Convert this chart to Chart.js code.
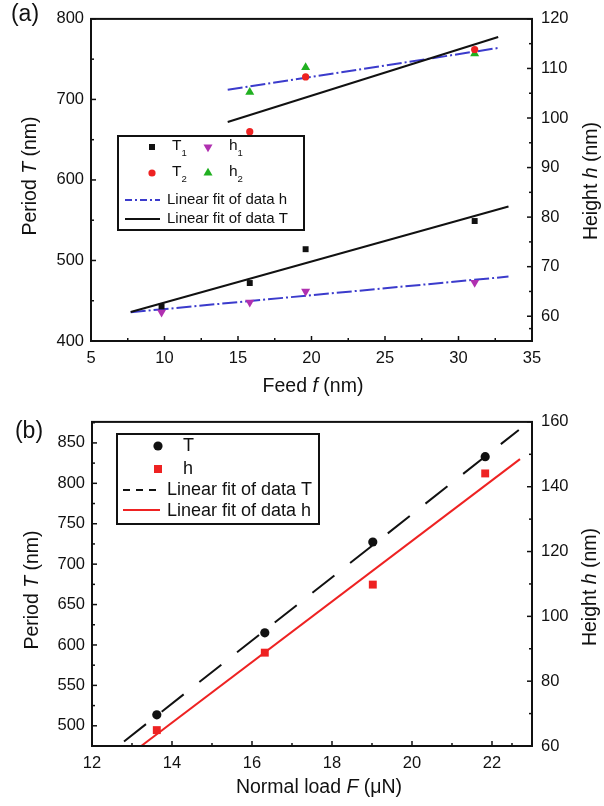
<!DOCTYPE html>
<html lang="en">
<head>
<meta charset="UTF-8">
<title>Period and height vs feed / normal load</title>
<style>
  body { margin: 0; background: #fff; }
  .panel { position: absolute; left: 0; width: 604px; height: 403px; }
  #panelA { top: 0; }
  #panelB { top: 403px; }
</style>
</head>
<body>
<div class="panel" id="panelA"><canvas id="chartA" width="604" height="403"></canvas></div>
<div class="panel" id="panelB"><canvas id="chartB" width="604" height="403"></canvas></div>

<script src="https://cdn.jsdelivr.net/npm/chart.js"></script>
<script>
// ---- panel (a): feed ----
const feedT1 = [9.8, 15.8, 19.6, 31.1];
const periodT1 = [443, 472, 514, 549];
const heightH1 = [60.8, 62.8, 65.0, 66.8];
const feedT2 = [15.8, 19.6, 31.1];
const periodT2 = [660, 728, 762];
const heightH2 = [105.2, 110.2, 113.0];
const fitFeedLow = [7.7, 33.4];
const fitPeriodLow = [436, 567];
const fitHeightLow = [60.8, 68.0];
const fitFeedHighT = [14.3, 32.7];
const fitPeriodHigh = [672, 777.5];
const fitFeedHighH = [14.3, 32.85];
const fitHeightHigh = [105.7, 114.2];
const feedTicks = [5, 10, 15, 20, 25, 30, 35];
const periodTicksA = [400, 500, 600, 700, 800];
const heightTicksA = [60, 70, 80, 90, 100, 110, 120];

// ---- panel (b): normal load ----
const loadF = [13.62, 16.32, 19.02, 21.83];
const periodB = [513.6, 615, 727.4, 833];
const heightB = [64.9, 88.8, 109.8, 144.1];
const fitLoadT = [12.8, 22.67];
const fitPeriodB = [480.6, 866];
const fitLoadH = [13.23, 22.7];
const fitHeightB = [60, 148.5];
const loadTicks = [12, 14, 16, 18, 20, 22];
const periodTicksB = [500, 550, 600, 650, 700, 750, 800, 850];
const heightTicksB = [60, 80, 100, 120, 140, 160];

const FAMILY = "'Liberation Sans', Arial, Helvetica, sans-serif";
const INK = '#111';
const BLUE = '#3b3bcc';
const RED = '#ee2222';
const MAGENTA = '#b030b0';
const GREEN = '#20b020';

Chart.defaults.font.family = FAMILY;

const pts = (xs, ys) => xs.map((x, i) => ({ x: x, y: ys[i] }));
const midpoints = arr => arr.slice(1).map((v, i) => (v + arr[i]) / 2);

// text with italic / subscript pieces
function richText(ctx, parts, size, x, y, rot, align) {
    ctx.save();
    ctx.translate(x, y);
    ctx.rotate(rot || 0);
    ctx.textBaseline = 'middle';
    ctx.textAlign = 'left';
    ctx.fillStyle = INK;
    const fontOf = p => (p.it ? 'italic ' : '') + (p.sub ? size * 0.62 : size) + 'px ' + FAMILY;
    let w = 0;
    parts.forEach(p => { ctx.font = fontOf(p); w += ctx.measureText(p.t).width; });
    let cx = align === 'left' ? 0 : -w / 2;
    parts.forEach(p => {
        ctx.font = fontOf(p);
        ctx.fillText(p.t, cx, p.sub ? size * 0.45 : 0);
        cx += ctx.measureText(p.t).width;
    });
    ctx.restore();
}

function marker(ctx, style, color, x, y, r) {
    ctx.save();
    ctx.fillStyle = color;
    ctx.beginPath();
    if (style === 'rect') {
        ctx.rect(x - r, y - r, 2 * r, 2 * r);
    } else if (style === 'circle') {
        ctx.arc(x, y, r, 0, Math.PI * 2);
    } else if (style === 'up') {
        ctx.moveTo(x, y - r); ctx.lineTo(x + r * 0.87, y + r * 0.5); ctx.lineTo(x - r * 0.87, y + r * 0.5);
    } else if (style === 'down') {
        ctx.moveTo(x, y + r); ctx.lineTo(x + r * 0.87, y - r * 0.5); ctx.lineTo(x - r * 0.87, y - r * 0.5);
    }
    ctx.closePath();
    ctx.fill();
    ctx.restore();
}

function legendLine(ctx, x1, x2, y, color, dash) {
    ctx.save();
    ctx.strokeStyle = color;
    ctx.lineWidth = 2;
    ctx.setLineDash(dash || []);
    ctx.beginPath(); ctx.moveTo(x1, y); ctx.lineTo(x2, y); ctx.stroke();
    ctx.restore();
}

// frame, inward ticks, titles and legend
function decor(tickSets, drawExtras) {
    return {
        id: 'decor',
        afterDraw(chart) {
            const { ctx, chartArea: a, scales } = chart;
            ctx.save();
            ctx.strokeStyle = INK;
            ctx.lineWidth = 2;
            ctx.strokeRect(a.left, a.top, a.right - a.left, a.bottom - a.top);
            ctx.lineWidth = 1.5;
            const mark = (id, values, len) => {
                const s = scales[id];
                values.forEach(v => {
                    if (v < s.min || v > s.max) return;
                    const p = s.getPixelForValue(v);
                    ctx.beginPath();
                    if (id === 'x') { ctx.moveTo(p, a.bottom); ctx.lineTo(p, a.bottom - len); }
                    else if (id === 'yT') { ctx.moveTo(a.left, p); ctx.lineTo(a.left + len, p); }
                    else { ctx.moveTo(a.right, p); ctx.lineTo(a.right - len, p); }
                    ctx.stroke();
                });
            };
            Object.keys(tickSets).forEach(id => {
                mark(id, tickSets[id], 5);
                mark(id, midpoints(tickSets[id]), 3);
            });
            ctx.restore();
            drawExtras(ctx);
        }
    };
}

function scalesFor(o) {
    const tickFont = { size: 16.5, family: FAMILY };
    const common = {
        type: 'linear',
        grid: { display: false, drawTicks: false },
        border: { display: false },
        ticks: { font: tickFont, color: INK }
    };
    return {
        x: Object.assign({}, common, {
            min: o.x[0], max: o.x[1],
            ticks: Object.assign({}, common.ticks, { padding: 8 }),
            afterBuildTicks: s => { s.ticks = o.xTicks.map(v => ({ value: v })); },
            afterFit: s => { s.height = o.xHeight; }
        }),
        yT: Object.assign({}, common, {
            position: 'left', min: o.yT[0], max: o.yT[1],
            ticks: Object.assign({}, common.ticks, { padding: 7 }),
            afterBuildTicks: s => { s.ticks = o.yTTicks.map(v => ({ value: v })); },
            afterFit: s => { s.width = o.left; }
        }),
        yH: Object.assign({}, common, {
            position: 'right', min: o.yH[0], max: o.yH[1],
            ticks: Object.assign({}, common.ticks, { padding: 9 }),
            afterBuildTicks: s => { s.ticks = o.yHTicks.map(v => ({ value: v })); },
            afterFit: s => { s.width = o.right; }
        })
    };
}

const baseOptions = (scales, top) => ({
    responsive: false,
    animation: false,
    events: [],
    layout: { padding: { top: top, left: 0, right: 0, bottom: 0 } },
    plugins: { legend: { display: false }, tooltip: { enabled: false } },
    scales: scales
});

// ---------- chart (a) ----------
new Chart(document.getElementById('chartA'), {
    type: 'scatter',
    data: {
        datasets: [
            { data: pts(feedT1, periodT1), yAxisID: 'yT', pointStyle: 'rect', pointRadius: 4.2, backgroundColor: INK, borderWidth: 0 },
            { data: pts(feedT2, periodT2), yAxisID: 'yT', pointStyle: 'circle', pointRadius: 3.6, backgroundColor: RED, borderWidth: 0 },
            { data: pts(feedT1, heightH1), yAxisID: 'yH', pointStyle: 'triangle', rotation: 180, pointRadius: 5.2, backgroundColor: MAGENTA, borderWidth: 0 },
            { data: pts(feedT2, heightH2), yAxisID: 'yH', pointStyle: 'triangle', pointRadius: 5.2, backgroundColor: GREEN, borderWidth: 0 },
            { data: pts(fitFeedLow, fitPeriodLow), yAxisID: 'yT', showLine: true, pointRadius: 0, borderColor: INK, borderWidth: 2 },
            { data: pts(fitFeedHighT, fitPeriodHigh), yAxisID: 'yT', showLine: true, pointRadius: 0, borderColor: INK, borderWidth: 2 },
            { data: pts(fitFeedLow, fitHeightLow), yAxisID: 'yH', showLine: true, pointRadius: 0, borderColor: BLUE, borderWidth: 2, borderDash: [15, 3, 2, 3] },
            { data: pts(fitFeedHighH, fitHeightHigh), yAxisID: 'yH', showLine: true, pointRadius: 0, borderColor: BLUE, borderWidth: 2, borderDash: [15, 3, 2, 3] }
        ]
    },
    options: baseOptions(scalesFor({
        x: [5, 35], yT: [400, 800], yH: [55, 120],
        xTicks: feedTicks, yTTicks: periodTicksA, yHTicks: heightTicksA,
        xHeight: 62, left: 91, right: 72
    }), 15),
    plugins: [decor({ x: feedTicks, yT: periodTicksA, yH: [55].concat(heightTicksA) }, ctx => {
        richText(ctx, [{ t: '(a)' }], 23, 25, 15);
        richText(ctx, [{ t: 'Period ' }, { t: 'T', it: true }, { t: ' (nm)' }], 19.5, 31, 176, -Math.PI / 2);
        richText(ctx, [{ t: 'Height ' }, { t: 'h', it: true }, { t: ' (nm)' }], 19.5, 592, 181, -Math.PI / 2);
        richText(ctx, [{ t: 'Feed ' }, { t: 'f', it: true }, { t: ' (nm)' }], 19.5, 313, 387);
        // legend box
        ctx.save();
        ctx.strokeStyle = INK; ctx.lineWidth = 2;
        ctx.strokeRect(118, 136, 186, 94);
        ctx.restore();
        marker(ctx, 'rect', INK, 152, 147, 3);
        richText(ctx, [{ t: 'T' }, { t: '1', sub: true }], 15.5, 172, 146, 0, 'left');
        marker(ctx, 'down', MAGENTA, 208, 147, 5.2);
        richText(ctx, [{ t: 'h' }, { t: '1', sub: true }], 15.5, 229, 146, 0, 'left');
        marker(ctx, 'circle', RED, 152, 173, 3.6);
        richText(ctx, [{ t: 'T' }, { t: '2', sub: true }], 15.5, 172, 172, 0, 'left');
        marker(ctx, 'up', GREEN, 208, 173, 5.2);
        richText(ctx, [{ t: 'h' }, { t: '2', sub: true }], 15.5, 229, 172, 0, 'left');
        legendLine(ctx, 125, 160, 200, BLUE, [7, 3, 2, 3]);
        richText(ctx, [{ t: 'Linear fit of data h' }], 15, 167, 200, 0, 'left');
        legendLine(ctx, 125, 160, 219, INK);
        richText(ctx, [{ t: 'Linear fit of data T' }], 15, 167, 219, 0, 'left');
    })]
});

// ---------- chart (b) ----------
new Chart(document.getElementById('chartB'), {
    type: 'scatter',
    data: {
        datasets: [
            { data: pts(loadF, periodB), yAxisID: 'yT', pointStyle: 'circle', pointRadius: 4.6, backgroundColor: INK, borderWidth: 0 },
            { data: pts(loadF, heightB), yAxisID: 'yH', pointStyle: 'rect', pointRadius: 5.6, backgroundColor: RED, borderWidth: 0 },
            { data: pts(fitLoadT, fitPeriodB), yAxisID: 'yT', showLine: true, pointRadius: 0, borderColor: INK, borderWidth: 2, borderDash: [28, 20] },
            { data: pts(fitLoadH, fitHeightB), yAxisID: 'yH', showLine: true, pointRadius: 0, borderColor: RED, borderWidth: 2 }
        ]
    },
    options: baseOptions(scalesFor({
        x: [12, 23], yT: [475, 876], yH: [60, 160],
        xTicks: loadTicks, yTTicks: periodTicksB, yHTicks: heightTicksB,
        xHeight: 60, left: 92, right: 72
    }), 18),
    plugins: [decor({ x: loadTicks.concat([23]), yT: periodTicksB.concat([900]), yH: heightTicksB }, ctx => {
        richText(ctx, [{ t: '(b)' }], 23, 29, 29);
        richText(ctx, [{ t: 'Period ' }, { t: 'T', it: true }, { t: ' (nm)' }], 19.5, 33, 187, -Math.PI / 2);
        richText(ctx, [{ t: 'Height ' }, { t: 'h', it: true }, { t: ' (nm)' }], 19.5, 591, 184, -Math.PI / 2);
        richText(ctx, [{ t: 'Normal load ' }, { t: 'F', it: true }, { t: ' (\u03bcN)' }], 19.5, 319, 385);
        ctx.save();
        ctx.strokeStyle = INK; ctx.lineWidth = 2;
        ctx.strokeRect(117, 31, 202, 90);
        ctx.restore();
        marker(ctx, 'circle', INK, 158, 43, 4.6);
        richText(ctx, [{ t: 'T' }], 18, 183, 43, 0, 'left');
        marker(ctx, 'rect', RED, 158, 66, 4);
        richText(ctx, [{ t: 'h' }], 18, 183, 66, 0, 'left');
        legendLine(ctx, 123, 160, 87, INK, [7, 6]);
        richText(ctx, [{ t: 'Linear fit of data T' }], 18, 167, 87, 0, 'left');
        legendLine(ctx, 123, 160, 107, RED);
        richText(ctx, [{ t: 'Linear fit of data h' }], 18, 167, 108, 0, 'left');
    })]
});
</script>
</body>
</html>
